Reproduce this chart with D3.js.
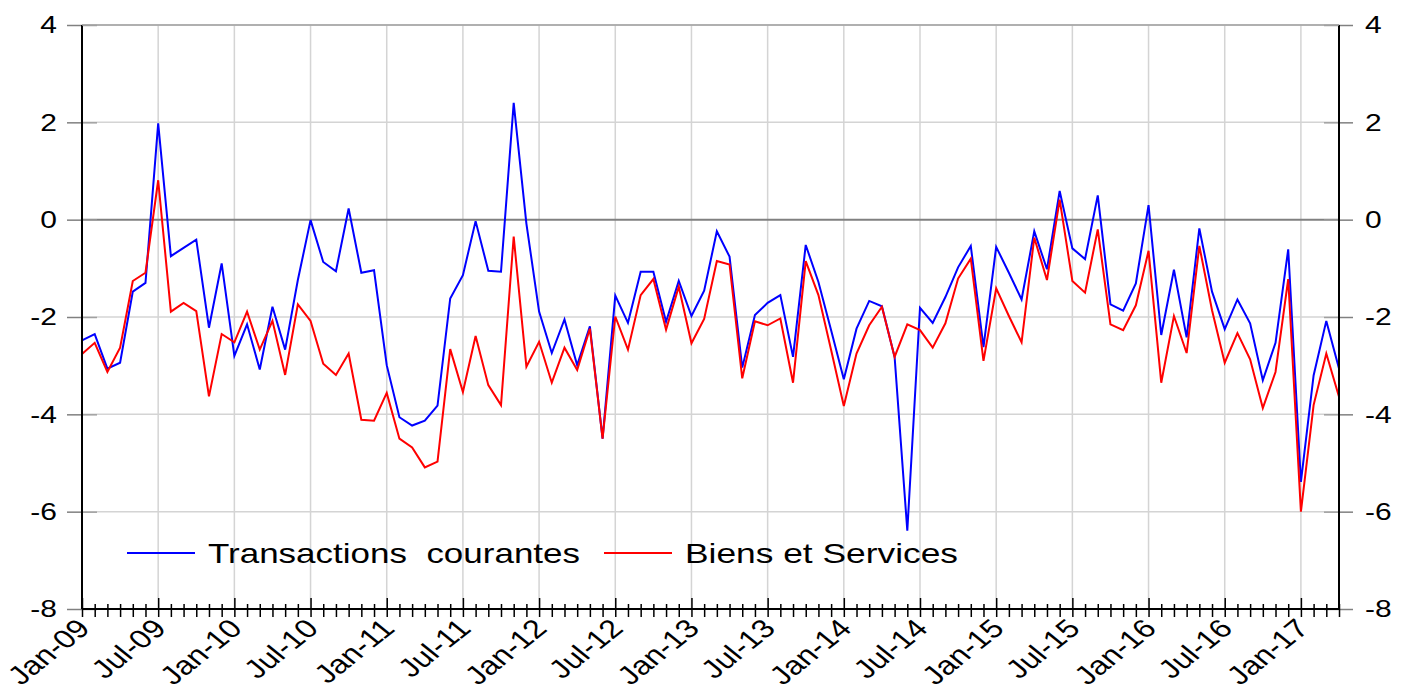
<!DOCTYPE html>
<html>
<head>
<meta charset="utf-8">
<script src="https://cdn.jsdelivr.net/npm/d3@7"></script>
<style>
  html, body { margin: 0; padding: 0; background: #fff; }
  svg { display: block; font-family: "Liberation Sans", Arial, sans-serif; }
  text { white-space: pre; }
</style>
</head>
<body>
<svg id="chart" width="1409" height="695"></svg>
<script>
// ---- data ----
const startMonth = "2009-01";
const seriesNames = ["Transactions  courantes", "Biens et Services"];
const seriesColors = ["#0000ff", "#ff0000"];
const transactionsCourantes = [
  -2.48, -2.35, -3.06, -2.94, -1.48, -1.30, 1.98, -0.75, -0.58, -0.41, -2.22, -0.90,
  -2.80, -2.15, -3.08, -1.79, -2.67, -1.24, -0.01, -0.87, -1.06, 0.23, -1.09, -1.04,
  -2.99, -4.06, -4.23, -4.13, -3.82, -1.62, -1.14, -0.03, -1.05, -1.07, 2.40, -0.08,
  -1.89, -2.74, -2.05, -2.99, -2.19, -4.50, -1.56, -2.12, -1.07, -1.07, -2.10, -1.26,
  -1.98, -1.46, -0.24, -0.76, -3.04, -1.96, -1.71, -1.55, -2.82, -0.52, -1.28, -2.27,
  -3.28, -2.24, -1.67, -1.78, -2.82, -6.39, -1.81, -2.12, -1.59, -0.98, -0.54, -2.62,
  -0.56, -1.09, -1.64, -0.24, -1.02, 0.59, -0.59, -0.81, 0.50, -1.74, -1.87, -1.31,
  0.30, -2.37, -1.03, -2.42, -0.18, -1.48, -2.25, -1.64, -2.13, -3.30, -2.53, -0.61,
  -5.39, -3.20, -2.08, -3.06
];
const biensEtServices = [
  -2.76, -2.53, -3.13, -2.63, -1.26, -1.09, 0.81, -1.89, -1.71, -1.88, -3.63, -2.35,
  -2.52, -1.89, -2.67, -2.08, -3.19, -1.74, -2.08, -2.96, -3.19, -2.75, -4.11, -4.13,
  -3.56, -4.50, -4.68, -5.09, -4.97, -2.66, -3.54, -2.39, -3.40, -3.81, -0.35, -3.02,
  -2.51, -3.35, -2.63, -3.09, -2.24, -4.50, -1.99, -2.67, -1.55, -1.22, -2.26, -1.38,
  -2.54, -2.04, -0.85, -0.92, -3.26, -2.09, -2.17, -2.03, -3.35, -0.85, -1.55, -2.68,
  -3.83, -2.75, -2.17, -1.79, -2.82, -2.15, -2.27, -2.63, -2.13, -1.21, -0.80, -2.90,
  -1.41, -1.98, -2.52, -0.37, -1.24, 0.41, -1.26, -1.50, -0.20, -2.15, -2.27, -1.76,
  -0.64, -3.35, -1.98, -2.74, -0.54, -1.86, -2.94, -2.33, -2.87, -3.87, -3.13, -1.22,
  -6.00, -3.81, -2.75, -3.64
];
const xTickLabels = ["Jan-09","Jul-09","Jan-10","Jul-10","Jan-11","Jul-11","Jan-12","Jul-12",
  "Jan-13","Jul-13","Jan-14","Jul-14","Jan-15","Jul-15","Jan-16","Jul-16","Jan-17"];
const yTickValues = [4, 2, 0, -2, -4, -6, -8];

// ---- categories (months) ----
const fmt = d3.timeFormat("%b-%y");
const t0 = d3.timeParse("%Y-%m")(startMonth);
const months = d3.range(transactionsCourantes.length).map(i => fmt(d3.timeMonth.offset(t0, i)));

// ---- layout ----
const L = 82, R = 1339, T = 25, B = 609;
const SX = 1.25; // horizontal text stretch
const svg = d3.select("#chart");
const x = d3.scalePoint().domain(months).range([L, R]);
const y = d3.scaleLinear().domain([-8, 4]).range([B, T]);
const yFmt = d => String(d);

// gridlines
const grid = svg.append("g");
grid.selectAll("line.h").data(yTickValues.filter(v => v !== 0 && v !== -8))
  .join("line").attr("x1", L).attr("x2", R)
  .attr("y1", d => y(d)).attr("y2", d => y(d))
  .attr("stroke", "#d4d4d4").attr("stroke-width", 1.5);
grid.selectAll("line.v").data(xTickLabels.filter(m => m !== months[0]))
  .join("line").attr("x1", d => x(d)).attr("x2", d => x(d))
  .attr("y1", T).attr("y2", B)
  .attr("stroke", "#d4d4d4").attr("stroke-width", 1.5);
grid.append("line").attr("x1", L).attr("x2", R).attr("y1", y(0)).attr("y2", y(0))
  .attr("stroke", "#808080").attr("stroke-width", 2);

// y axes (outer ticks with labels)
const yLeft = svg.append("g").attr("transform", `translate(${L},0)`)
  .call(d3.axisLeft(y).tickValues(yTickValues).tickFormat(yFmt).tickSize(15).tickPadding(10));
const yRight = svg.append("g").attr("transform", `translate(${R},0)`)
  .call(d3.axisRight(y).tickValues(yTickValues).tickFormat(yFmt).tickSize(14).tickPadding(12));
[yLeft, yRight].forEach(g => {
  g.select(".domain").remove();
  g.selectAll(".tick line").attr("stroke", "#808080").attr("stroke-width", 1.5);
  g.selectAll(".tick text").attr("font-size", 24).attr("fill", "#000")
    .attr("font-family", "Liberation Sans, Arial, sans-serif")
    .each(function() {
      const t = d3.select(this);
      const xx = +t.attr("x");
      t.attr("x", 0).attr("transform", `translate(${xx},0) scale(${SX},1)`);
    });
});
// inner ticks
svg.append("g").attr("transform", `translate(${L},0)`)
  .call(d3.axisRight(y).tickValues(yTickValues).tickSize(15).tickFormat(""))
  .call(g => g.select(".domain").remove())
  .selectAll(".tick line").attr("stroke", "#a0a0a0").attr("stroke-width", 1.5);
svg.append("g").attr("transform", `translate(${R},0)`)
  .call(d3.axisLeft(y).tickValues(yTickValues).tickSize(15).tickFormat(""))
  .call(g => g.select(".domain").remove())
  .selectAll(".tick line").attr("stroke", "#a0a0a0").attr("stroke-width", 1.5);

// series lines
const line = d3.line().x((d, i) => x(months[i])).y(d => y(d));
[transactionsCourantes, biensEtServices].forEach((s, k) => {
  svg.append("path").datum(s).attr("d", line).attr("fill", "none")
    .attr("stroke", seriesColors[k]).attr("stroke-width", 2).attr("stroke-linejoin", "miter");
});

// frame
svg.append("line").attr("x1", L).attr("x2", L).attr("y1", T).attr("y2", B)
  .attr("stroke", "#000").attr("stroke-width", 2);
svg.append("line").attr("x1", R).attr("x2", R).attr("y1", T).attr("y2", B)
  .attr("stroke", "#000").attr("stroke-width", 2);
svg.append("line").attr("x1", L).attr("x2", R).attr("y1", T).attr("y2", T)
  .attr("stroke", "#a0a0a0").attr("stroke-width", 1.5);

// x axis: monthly ticks crossing the axis
const xa = svg.append("g").attr("transform", `translate(0,${B})`);
xa.call(d3.axisBottom(x).tickValues(months).tickSize(8).tickFormat(""));
xa.select(".domain").remove();
xa.selectAll(".tick line").attr("stroke", "#000").attr("stroke-width", 1.5)
  .attr("y1", d => xTickLabels.includes(d) ? -11 : -5);
svg.append("line").attr("x1", L).attr("x2", R).attr("y1", B).attr("y2", B)
  .attr("stroke", "#000").attr("stroke-width", 2);

// x labels
const xl = svg.append("g").attr("transform", `translate(0,${B})`)
  .call(d3.axisBottom(x).tickValues(xTickLabels).tickSize(0));
xl.select(".domain").remove();
xl.selectAll(".tick text")
  .attr("font-size", 26).attr("fill", "#000")
  .attr("font-family", "Liberation Sans, Arial, sans-serif")
  .attr("text-anchor", "end").attr("x", 0).attr("y", 0).attr("dy", 0)
  .attr("transform", `translate(9,21) scale(${SX},1) rotate(-45)`);

// legend
const lg = svg.append("g");
const legendItems = [
  { lx: 127, tx: 208, tl: 372 },
  { lx: 604, tx: 685, tl: 273 }
];
legendItems.forEach((it, k) => {
  lg.append("line").attr("x1", it.lx).attr("x2", it.lx + 68).attr("y1", 553).attr("y2", 553)
    .attr("stroke", seriesColors[k]).attr("stroke-width", 2);
  lg.append("text").attr("x", it.tx).attr("y", 563).attr("font-size", 28)
    .attr("textLength", it.tl).attr("lengthAdjust", "spacingAndGlyphs")
    .attr("fill", "#000").text(seriesNames[k]);
});
</script>
</body>
</html>
